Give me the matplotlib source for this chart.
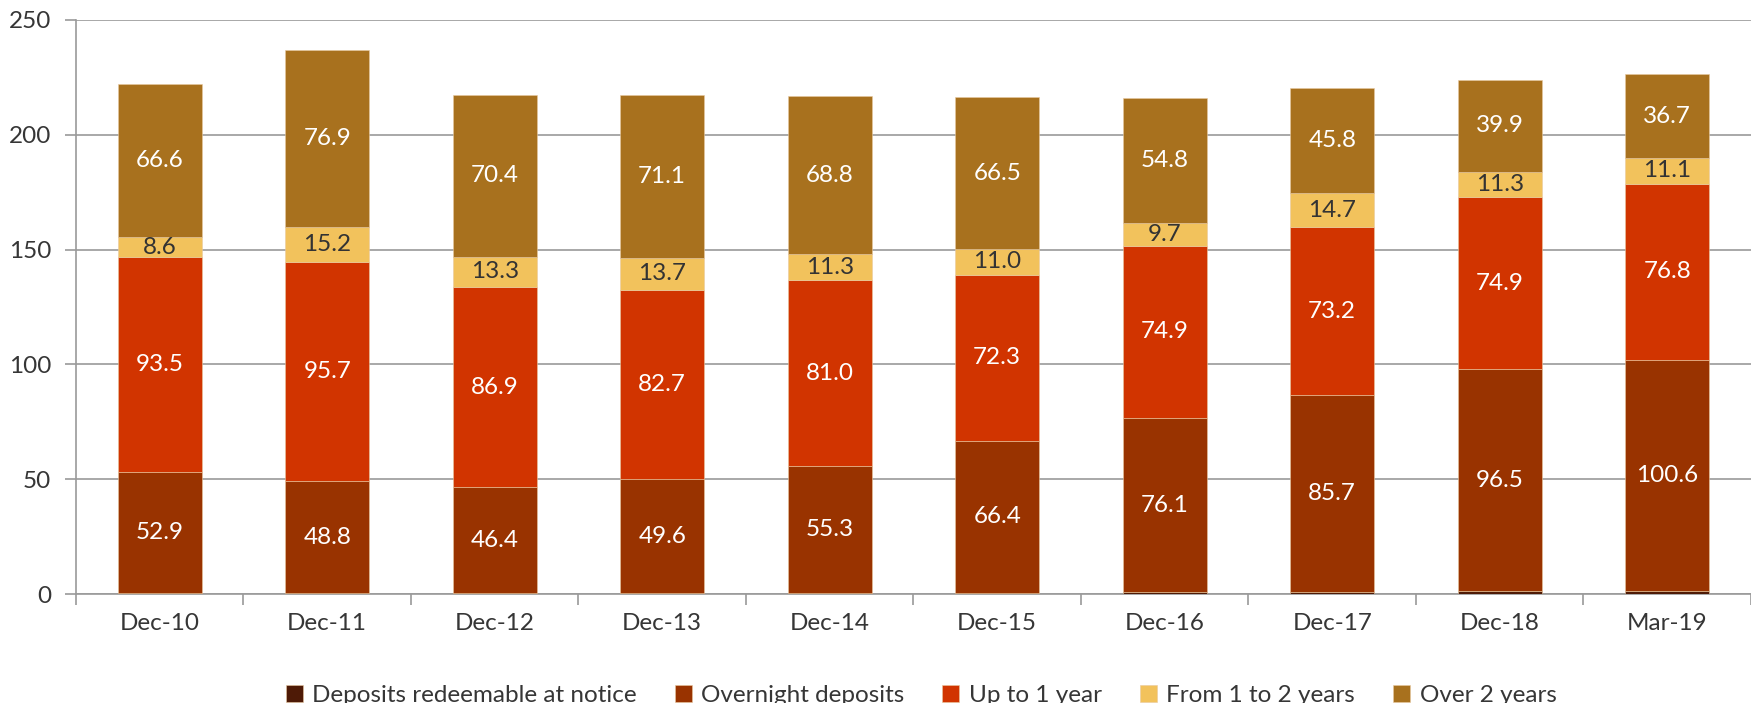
import numpy as np
from matplotlib import pyplot as plt

plt.rcParams['font.family'] = ['Lato', 'DejaVu Sans']

periods = ["Dec-10", "Dec-11", "Dec-12", "Dec-13", "Dec-14",
           "Dec-15", "Dec-16", "Dec-17", "Dec-18", "Mar-19"]
notice = [0.3, 0.3, 0.3, 0.3, 0.4, 0.4, 0.7, 0.9, 1.3, 1.3]
overnight = [52.9, 48.8, 46.4, 49.6, 55.3, 66.4, 76.1, 85.7, 96.5, 100.6]
up_to_1y = [93.5, 95.7, 86.9, 82.7, 81.0, 72.3, 74.9, 73.2, 74.9, 76.8]
one_to_2y = [8.6, 15.2, 13.3, 13.7, 11.3, 11.0, 9.7, 14.7, 11.3, 11.1]
over_2y = [66.6, 76.9, 70.4, 71.1, 68.8, 66.5, 54.8, 45.8, 39.9, 36.7]

series = [
    ("Deposits redeemable at notice", notice, "#4e1a06", None),
    ("Overnight deposits", overnight, "#993300", "white"),
    ("Up to 1 year", up_to_1y, "#d13400", "white"),
    ("From 1 to 2 years", one_to_2y, "#f2c25c", "#333333"),
    ("Over 2 years", over_2y, "#a8711e", "white"),
]

grey = "#9a9a9a"
text_col = "#363636"

fig = plt.figure(figsize=(17.51, 7.03), dpi=100)
ax = fig.add_axes([0.0434, 0.155, 0.9566, 0.8166])

x = np.arange(len(periods))
bottom = np.zeros(len(periods))
for name, vals, color, lab_col in series:
    vals = np.array(vals)
    ax.bar(x, vals, 0.5, bottom=bottom, color=color, label=name,
           edgecolor="#e8c9a0", linewidth=0.4, zorder=3)
    if lab_col is not None:
        for xi, b, v in zip(x, bottom, vals):
            ax.text(xi, b + v / 2, f"{v:.1f}", ha="center", va="center",
                    color=lab_col, fontsize=17.5, zorder=4)
    bottom += vals

ax.set_xlim(-0.5, len(periods) - 0.5)
ax.set_ylim(0, 250)
ax.set_yticks([0, 50, 100, 150, 200, 250])
ax.yaxis.grid(True, color=grey, linewidth=1.2, zorder=0)
ax.set_axisbelow(True)

ax.set_xticks(x)
ax.set_xticklabels(periods)
ax.set_xticks(np.arange(-0.5, len(periods)), minor=True)
ax.tick_params(axis="x", which="major", length=0, pad=14,
               labelsize=17.5, labelcolor=text_col)
ax.tick_params(axis="x", which="minor", length=8, width=1.2, color=grey)
ax.tick_params(axis="y", length=8, width=1.2, color=grey,
               labelsize=17.5, labelcolor=text_col, pad=10)

for s in ["top", "right"]:
    ax.spines[s].set_visible(False)
for s in ["left", "bottom"]:
    ax.spines[s].set_color(grey)
    ax.spines[s].set_linewidth(1.2)

fig.legend(loc="center", bbox_to_anchor=(0.526, 0.01), ncol=5,
           frameon=False, fontsize=17.5, labelcolor=text_col,
           handlelength=0.7, handleheight=0.7, handletextpad=0.4,
           columnspacing=1.55)

fig.savefig("out.png", dpi=100)
